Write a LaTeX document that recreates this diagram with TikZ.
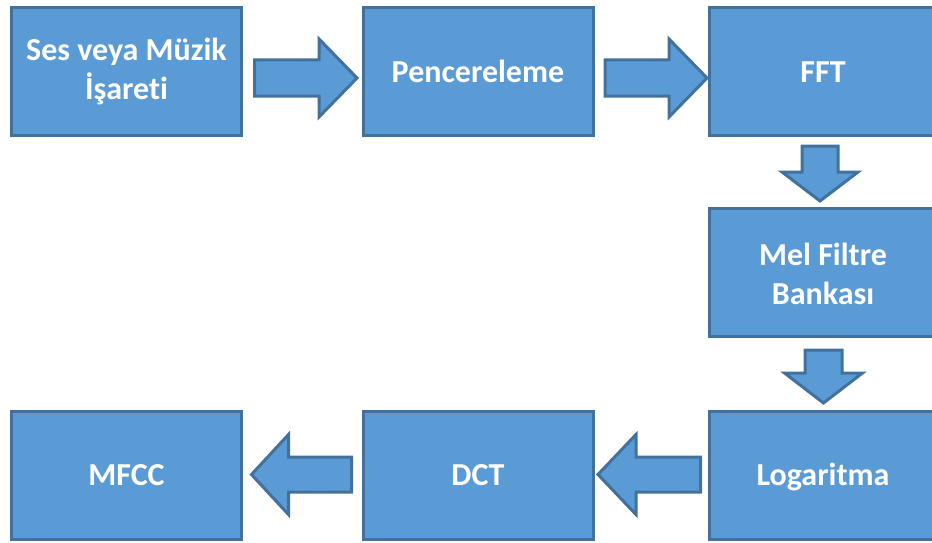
\documentclass[tikz,border=0pt]{standalone}
\usepackage{fontspec}
\setmainfont{Carlito}[Ligatures=NoCommon]
\usetikzlibrary{calc}
\definecolor{boxfill}{HTML}{5B9BD5}
\definecolor{boxline}{HTML}{41719C}
\tikzset{
  stage/.style={draw=boxline, fill=boxfill, line width=3pt,
    minimum width=230pt, minimum height=128pt, inner sep=0pt,
    text=white, align=center,
    font=\fontsize{32}{39}\selectfont\bfseries},
  wide/.style={minimum width=260pt},
  label/.style={stage, draw=none, fill=none, minimum width=0pt, minimum height=0pt},
  blk/.style={draw=boxline, fill=boxfill, line width=3pt, line join=miter}
}
% horizontal block arrow: #1 tail midpoint, #2 signed length, #3 half shaft,
% #4 half head, #5 signed head length
\newcommand\harrow[5]{%
  \draw[blk] ($#1+(0,-#3)$) -- ++({#2-#5},0) -- ++(0,{#3-#4}) -- ++(#5,#4)
    -- ++(-#5,#4) -- ++(0,{#3-#4}) -- ++({#5-#2},0) -- cycle;}
% vertical block arrow (downwards)
\newcommand\varrow[5]{%
  \draw[blk] ($#1+(-#3,0)$) -- ++(0,{#2-#5}) -- ++({#3-#4},0) -- ++(#4,#5)
    -- ++(#4,-#5) -- ++({#3-#4},0) -- ++(0,{#5-#2}) -- cycle;}
\begin{document}
\begin{tikzpicture}[x=1pt,y=-1pt]
  \useasboundingbox (0,0) rectangle (932,543);
  \clip (0,0) rectangle (932,543);
  % processing stages
  \node[stage] (ses)  at (126.5,71.5) {Ses veya Müzik\\İşareti};
  \node[stage] (pen)  at (478,71.5)   {Pencereleme};
  \node[stage,wide] (fft)  at (839.5,71.5) {};
  \node[stage,wide] (mel)  at (839.5,272.5) {};
  \node[stage,wide] (log)  at (839.5,475.5) {};
  \node[stage] (dct)  at (478,475.5)  {DCT};
  \node[stage] (mfcc) at (126.5,475.5) {MFCC};
  % labels of the right column, centred on its visible part
  \node[label] (fftlbl) at (823,72.5) {FFT};
  \node[label] (mellbl) at (823,273.5) {Mel Filtre\\Bankası};
  \node[label] (loglbl) at (823,477) {Logaritma};
  % block arrows between stages
  \harrow{(ses.east)+(11.5,6.5)}{102.5}{18}{39}{38}
  \harrow{(pen.east)+(10.5,6.5)}{102}{18}{39}{38}
  \varrow{(fft.south)+(-19.5,9)}{55}{18}{38}{29}
  \varrow{(mel.south)+(-16,12)}{53}{18.5}{39}{30}
  \harrow{(log.west)+(-7.5,-1)}{-102.5}{17.5}{40}{-38}
  \harrow{(dct.west)+(-10,-1)}{-100}{17.5}{40}{-37}
\end{tikzpicture}
\end{document}
